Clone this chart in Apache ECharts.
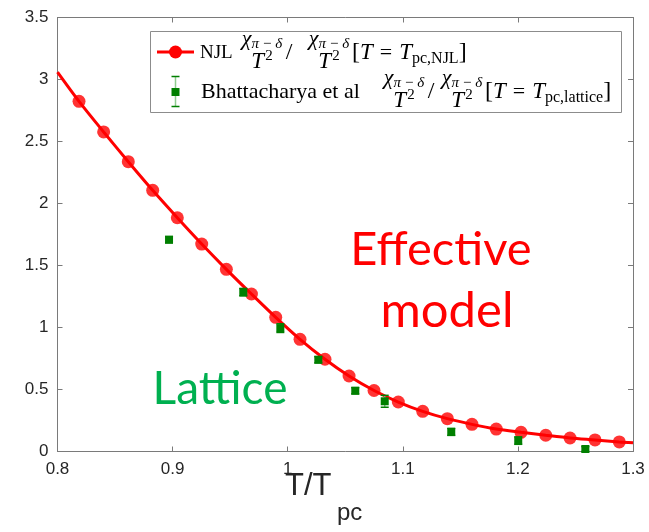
<!DOCTYPE html>
<html>
<head>
<meta charset="utf-8">
<script src="https://cdn.jsdelivr.net/npm/echarts@6/dist/echarts.min.js"></script>
<style>
  html, body { margin: 0; padding: 0; background: #fff; }
  #chart { width: 649px; height: 532px; }
</style>
</head>
<body>
<div id="chart"></div>
<script>
// NJL ratio chi_{pi-delta}/T^2 normalised at T = T_pc,NJL
const njlT = [0.8187, 0.8401, 0.8615, 0.8827, 0.9041, 0.9253, 0.9467, 0.9685,
              0.9896, 1.0107, 1.0324, 1.0533, 1.0750, 1.0961, 1.1173, 1.1387,
              1.1601, 1.1812, 1.2027, 1.2242, 1.2453, 1.2670, 1.2881];
const njlChi = [2.824, 2.577, 2.337, 2.106, 1.885, 1.673, 1.469, 1.270,
                1.082, 0.905, 0.744, 0.609, 0.492, 0.399, 0.324, 0.265,
                0.219, 0.181, 0.155, 0.131, 0.109, 0.093, 0.077];
// the NJL curve continues to the plot edges
const curveStart = [0.8, 3.06];
const curveEnd = [1.3, 0.07];

// Bhattacharya et al lattice ratio, normalised at T = T_pc,lattice
const latT = [0.8969, 0.9614, 0.9936, 1.0266, 1.0587, 1.0843, 1.1421, 1.2003, 1.2586];
const latChi = [1.708, 1.285, 0.995, 0.740, 0.490, 0.405, 0.158, 0.088, 0.020];
const latErr = [0.025, 0.030, 0.035, 0.025, 0.025, 0.048, 0.028, 0.030, 0.020];

const xTicks = { min: 0.8, max: 1.3, step: 0.1 };
const yTicks = { min: 0, max: 3.5, step: 0.5 };

const axisColor = '#7a7a7a';
const labelColor = '#262626';
const red = '#ff0000';
const dkGreen = '#007f00';

const chart = echarts.init(document.getElementById('chart'), null, { renderer: 'canvas' });

// --- legend text with fractions, laid out run by run ---
const mctx = document.createElement('canvas').getContext('2d');
const SERIF = '"Liberation Serif", "DejaVu Serif", serif';
function textW(t, size, italic) {
  mctx.font = (italic ? 'italic ' : '') + size + 'px ' + SERIF;
  return mctx.measureText(t).width;
}
function run(t, x, y, size, italic, align) {
  return {
    type: 'text', x: x, y: y, silent: true,
    style: { text: t, fontSize: size, fontStyle: italic ? 'italic' : 'normal',
             fontFamily: SERIF, fill: '#000', align: align || 'left', verticalAlign: 'middle' }
  };
}
const SUB = 15;
const NUM_SUB = '\u03c0\u2009\u2212\u2009\u03b4';
// chi_{pi-delta} over T^2, centred on cx
function fraction(cx, cy) {
  const chiW = textW('\u03c7', 22, true);
  const numW = chiW + textW(NUM_SUB, SUB, true);
  const tW = textW('T', 23, true);
  const denW = tW + 1 + textW('2', SUB, false);
  const nx = cx - numW / 2, dx = cx - denW / 2;
  return [
    run('\u03c7', nx, cy - 13, 22, true),
    run(NUM_SUB, nx + chiW, cy - 8, SUB, true),
    run('T', dx, cy + 10, 23, true),
    run('2', dx + tW + 1, cy + 4, SUB, false)
  ];
}
// [T = T_sub] spread between x0 and x1
function bracket(sub, x0, x1, cy) {
  const parts = [['[', 24, false, 1], ['T', 23, true, 1], ['=', 22, false, 1],
                 ['T', 23, true, 1], [sub, 16, false, 7], [']', 24, false, 1]];
  let natural = 0;
  parts.forEach(p => { natural += textW(p[0], p[1], p[2]); });
  const gap = Math.min(7, Math.max(3, (x1 - x0 - natural) / 2));
  const els = [];
  let x = x0;
  parts.forEach((p, i) => {
    if (i === 2) x += gap;
    els.push(run(p[0], x, cy + p[3], p[1], p[2]));
    x += textW(p[0], p[1], p[2]);
    if (i === 2) x += gap;
  });
  return els;
}
function legendLine(label, L, cy) {
  return [run(label, L.label, cy + 1, L.size, false)]
    .concat(fraction(L.f1, cy))
    .concat([run('/', L.slash, cy + 1, 24, false, 'center')])
    .concat(fraction(L.f2, cy))
    .concat(bracket(L.sub, L.b0, L.b1, cy));
}
const line1 = { label: 200, size: 19, f1: 262, slash: 289, f2: 329, sub: 'pc,NJL', b0: 352, b1: 468 };
const line2 = { label: 201, size: 22, f1: 404, slash: 431, f2: 462, sub: 'pc,lattice', b0: 485, b1: 613 };

const legendBox = { x: 150.5, y: 31.5, w: 471, h: 81 };
const legendEls = [
  { type: 'rect', silent: true, shape: { x: legendBox.x, y: legendBox.y, width: legendBox.w, height: legendBox.h },
    style: { fill: '#fff', stroke: '#8c8c8c', lineWidth: 1 } },
  // NJL key: line with circle marker
  { type: 'line', silent: true, shape: { x1: 157, y1: 52, x2: 194, y2: 52 }, style: { stroke: red, lineWidth: 3 } },
  { type: 'circle', silent: true, shape: { cx: 175.5, cy: 52, r: 6.5 }, style: { fill: red } },
  // lattice key: error bar with square marker
  { type: 'line', silent: true, shape: { x1: 175.5, y1: 76.5, x2: 175.5, y2: 106.5 }, style: { stroke: '#8fcc8f', lineWidth: 1.5 } },
  { type: 'line', silent: true, shape: { x1: 171.5, y1: 76.5, x2: 179.5, y2: 76.5 }, style: { stroke: dkGreen, lineWidth: 1.5 } },
  { type: 'line', silent: true, shape: { x1: 171.5, y1: 106.5, x2: 179.5, y2: 106.5 }, style: { stroke: dkGreen, lineWidth: 1.5 } },
  { type: 'rect', silent: true, shape: { x: 171.5, y: 88, width: 8, height: 8 }, style: { fill: dkGreen } }
].concat(legendLine('NJL', line1, 52))
 .concat(legendLine('Bhattacharya et al', line2, 91));

const curveData = [curveStart].concat(njlT.map((t, i) => [t, njlChi[i]])).concat([curveEnd]);

const SANS = '"Liberation Sans", Arial, sans-serif';
const option = {
  animation: false,
  backgroundColor: '#fff',
  grid: { left: 57.5, right: 16, top: 17.5, bottom: 80.5, containLabel: false },
  xAxis: [
    { type: 'value', min: xTicks.min, max: xTicks.max, interval: xTicks.step,
      axisLine: { onZero: false, lineStyle: { color: axisColor, width: 1 } },
      axisTick: { inside: true, length: 5, lineStyle: { color: axisColor } },
      axisLabel: { color: labelColor, fontSize: 17, fontFamily: SANS, margin: 9 },
      splitLine: { show: false } },
    { type: 'value', position: 'top', min: xTicks.min, max: xTicks.max, interval: xTicks.step,
      axisLine: { onZero: false, lineStyle: { color: axisColor, width: 1 } },
      axisTick: { inside: true, length: 5, lineStyle: { color: axisColor } },
      axisLabel: { show: false }, splitLine: { show: false } }
  ],
  yAxis: [
    { type: 'value', min: yTicks.min, max: yTicks.max, interval: yTicks.step,
      axisLine: { show: true, onZero: false, lineStyle: { color: axisColor, width: 1 } },
      axisTick: { show: true, inside: true, length: 5, lineStyle: { color: axisColor } },
      axisLabel: { color: labelColor, fontSize: 17, fontFamily: SANS, margin: 9 },
      splitLine: { show: false } },
    { type: 'value', position: 'right', min: yTicks.min, max: yTicks.max, interval: yTicks.step,
      axisLine: { show: true, onZero: false, lineStyle: { color: axisColor, width: 1 } },
      axisTick: { show: true, inside: true, length: 5, lineStyle: { color: axisColor } },
      axisLabel: { show: false }, splitLine: { show: false } }
  ],
  series: [
    { name: 'NJL curve', type: 'line', data: curveData, smooth: 0.3, showSymbol: false,
      lineStyle: { color: red, width: 3 }, z: 2, clip: true },
    { name: 'NJL', type: 'scatter', data: njlT.map((t, i) => [t, njlChi[i]]),
      symbol: 'circle', symbolSize: 13, itemStyle: { color: red }, z: 3 },
    { name: 'Bhattacharya et al', type: 'custom', z: 4,
      data: latT.map((t, i) => [t, latChi[i], latErr[i]]),
      encode: { x: 0, y: 1 },
      renderItem: function (params, api) {
        const x = api.value(0), y = api.value(1), e = api.value(2);
        const c = api.coord([x, y]);
        const top = api.coord([x, y + e]);
        const bot = api.coord([x, y - e]);
        const hw = 4;
        return { type: 'group', children: [
          { type: 'line', shape: { x1: c[0], y1: top[1], x2: c[0], y2: bot[1] }, style: { stroke: '#7fbf7f', lineWidth: 1.5 } },
          { type: 'line', shape: { x1: c[0] - hw, y1: top[1], x2: c[0] + hw, y2: top[1] }, style: { stroke: dkGreen, lineWidth: 1.5 } },
          { type: 'line', shape: { x1: c[0] - hw, y1: bot[1], x2: c[0] + hw, y2: bot[1] }, style: { stroke: dkGreen, lineWidth: 1.5 } },
          { type: 'rect', shape: { x: c[0] - 4, y: c[1] - 4, width: 8, height: 8 }, style: { fill: dkGreen } }
        ] };
      } }
  ],
  graphic: [
    { type: 'group', children: legendEls, z: 10 },
    { type: 'text', x: 441, y: 250, silent: true,
      style: { text: 'Effective', fontSize: 47, fontFamily: 'Lato, "Open Sans", sans-serif', fill: red, align: 'center', verticalAlign: 'middle' } },
    { type: 'text', x: 447, y: 311, silent: true,
      style: { text: 'model', fontSize: 49, fontFamily: 'Lato, "Open Sans", sans-serif', fill: red, align: 'center', verticalAlign: 'middle' } },
    { type: 'text', x: 220, y: 389, silent: true,
      style: { text: 'Lattice', fontSize: 46, fontFamily: 'Lato, "Open Sans", sans-serif', fill: '#00b050', align: 'center', verticalAlign: 'middle' } },
    // x-axis title T/T_pc
    { type: 'text', x: 285, y: 486, silent: true,
      style: { text: 'T/T', fontSize: 31, fontFamily: SANS, fill: labelColor, align: 'left', verticalAlign: 'middle' } },
    { type: 'text', x: 337, y: 513, silent: true,
      style: { text: 'pc', fontSize: 24, fontFamily: SANS, fill: labelColor, align: 'left', verticalAlign: 'middle' } }
  ]
};
chart.setOption(option);
</script>
</body>
</html>
